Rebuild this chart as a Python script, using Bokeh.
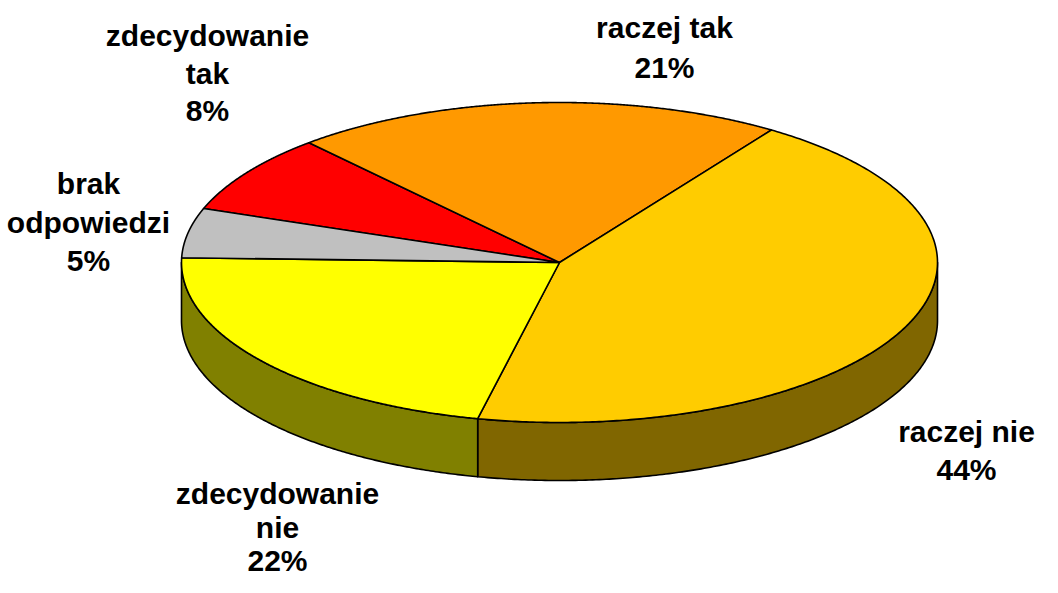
import numpy as np
from bokeh.plotting import figure
from bokeh.models import Range1d, ColumnDataSource
from bokeh.embed import file_html
from bokeh.resources import INLINE
from bokeh.core.properties import value

# ---- data ----
categories = ["zdecydowanie tak", "raczej tak", "raczej nie", "zdecydowanie nie", "brak odpowiedzi"]
values = [8, 21, 44, 22, 5]
top_colors = ["#FF0000", "#FF9900", "#FFCC00", "#FFFF00", "#C0C0C0"]
side_colors = ["#800000", "#804C00", "#806600", "#808000", "#606060"]
label_lines = [["zdecydowanie", "tak"], ["raczej tak"], ["raczej nie"], ["zdecydowanie", "nie"], ["brak", "odpowiedzi"]]

# ---- layout ----
label_pos = [(207, 35), (664, 27), (966, 431), (277, 493), (88, 183)]  # first-line centre
line_steps = [37.5, 39.5, 37.5, 33.5, 38.5]
CX, CY, RX, RY, DEPTH = 559.0, 262.0, 378.0, 160.0, 58.0
START = 160.3  # degrees, slices go clockwise

W, H = 1042, 577
p = figure(width=W, height=H, output_backend="svg", toolbar_location=None,
           x_range=Range1d(0, W), y_range=Range1d(H, 0),
           min_border=0, outline_line_color=None)
p.axis.visible = False
p.grid.visible = False
p.background_fill_color = "white"
p.border_fill_color = "white"

total = float(sum(values))
bounds = []
a = START
for v in values:
    span = 360.0 * v / total
    bounds.append((a, a - span))
    a -= span


def ex(t):
    return CX + RX * np.cos(np.radians(t))


def ey(t):
    return CY - RY * np.sin(np.radians(t))


# side walls (visible front half: sin(t) < 0)
side_xs, side_ys, side_cols = [], [], []
for (a0, a1), col in zip(bounds, side_colors):
    hi, lo = a0, a1
    for k in range(-3, 3):
        s0, s1 = k * 360 - 180, k * 360
        l, h = max(lo, s0), min(hi, s1)
        if h - l > 1e-6:
            t = np.linspace(h, l, 200)
            x = ex(t)
            y = ey(t)
            side_xs.append(list(x) + list(x[::-1]))
            side_ys.append(list(y) + list((y + DEPTH)[::-1]))
            side_cols.append(col)

p.patches(side_xs, side_ys, fill_color=side_cols, line_color="black", line_width=1.6,
          line_join="round")

# top wedges
top_xs, top_ys = [], []
for (a0, a1) in bounds:
    t = np.linspace(a0, a1, 300)
    top_xs.append([CX] + list(ex(t)))
    top_ys.append([CY] + list(ey(t)))
p.patches(top_xs, top_ys, fill_color=top_colors, line_color="black", line_width=1.6,
          line_join="round")

# labels
lx, ly, lt = [], [], []
for lines, v, (x0, y0), st in zip(label_lines, values, label_pos, line_steps):
    allines = lines + [f"{v}%"]
    for i, s in enumerate(allines):
        lx.append(x0)
        ly.append(y0 + i * st)
        lt.append(s)
src = ColumnDataSource(dict(x=lx, y=ly, text=lt))
p.text(x="x", y="y", text="text", source=src, text_align="center", text_baseline="middle",
       text_font=value("Liberation Sans"), text_font_style="bold", text_font_size="30px",
       text_color="black")

open("out.html", "w").write(file_html(p, INLINE))
